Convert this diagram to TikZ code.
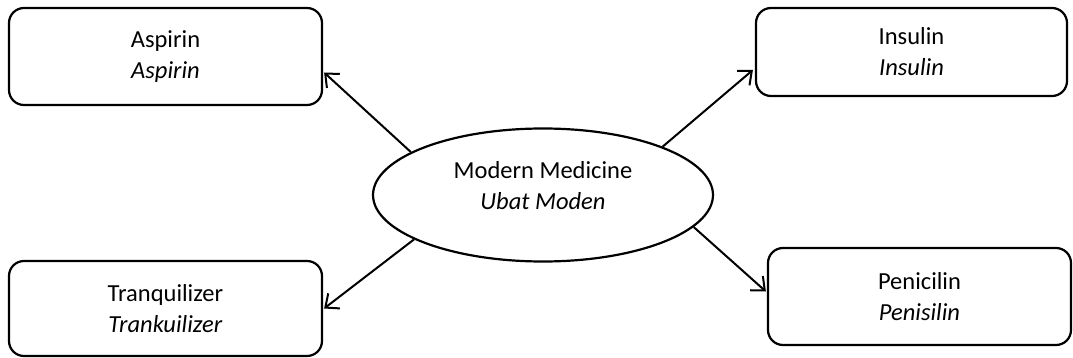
\documentclass[tikz,border=0pt]{standalone}
\usepackage{fontspec}
\setmainfont{Carlito}
\usetikzlibrary{shapes.geometric,arrows.meta,calc}
\begin{document}
\begin{tikzpicture}[x=1pt,y=-1pt,
  every node/.style={font=\fontsize{24.5}{31}\selectfont, align=center},
  box/.style={draw, line width=2.2pt, rounded corners=15pt, inner sep=0pt},
  oval/.style={draw, ellipse, line width=2.2pt, inner sep=0pt, minimum width=340pt, minimum height=133pt},
  conn/.style={line width=2pt, -{Straight Barb[length=11pt,width=19pt,line width=2pt]}}]
\useasboundingbox (0,0) rectangle (1073,358);
\node[box, minimum width=313pt, minimum height=97pt] (asp) at (165.5,56.5) {Aspirin\\\textit{Aspirin}};
\node[box, minimum width=311pt, minimum height=88pt] (ins) at (911.5,52) {Insulin\\\textit{Insulin}};
\node[box, minimum width=313pt, minimum height=95pt] (tra) at (165.5,308.5) {Tranquilizer\\\textit{Trankuilizer}};
\node[box, minimum width=303pt, minimum height=97pt] (pen) at (919.5,296.5) {Penicilin\\\textit{Penisilin}};
\node[oval] (med) at (543,195) {};
\node (medt) at ($(med.center)+(0,-9)$) {Modern Medicine\\\textit{Ubat Moden}};
\draw[conn] (med.162) -- ($(asp.east)+(1,16)$);
\draw[conn] (med.22) -- ($(ins.west)+(-2,18)$);
\draw[conn] (med.199) -- ($(tra.east)+(1,0)$);
\draw[conn] (med.-12) -- ($(pen.west)+(-1,-5)$);
\end{tikzpicture}
\end{document}
